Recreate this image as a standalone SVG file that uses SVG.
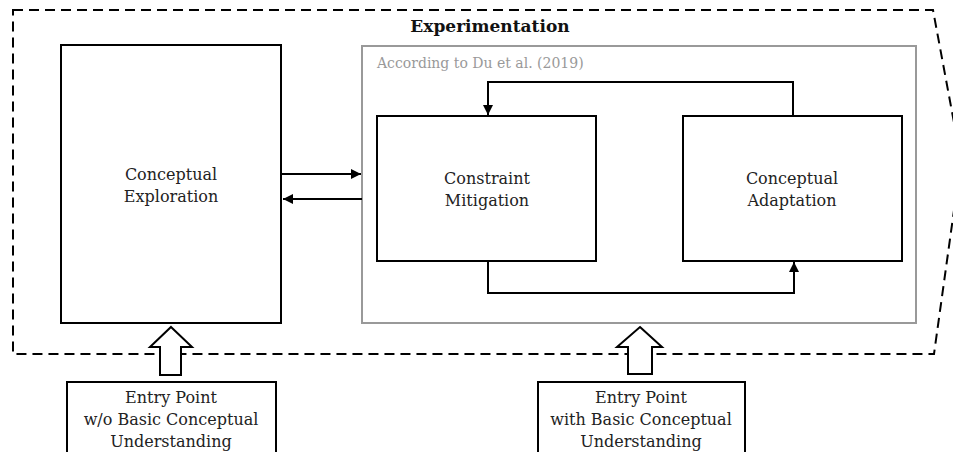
<svg xmlns="http://www.w3.org/2000/svg" width="953" height="452" viewBox="0 0 953 452">
<defs>
<style>
.box{fill:#fff;stroke:#000;stroke-width:2}
.t{font-family:"DejaVu Serif","Liberation Serif",serif;font-size:16px;fill:#222;text-anchor:middle}
.line{fill:none;stroke:#000;stroke-width:2}
</style>
<marker id="ah" viewBox="0 0 10 10" refX="10" refY="5" markerWidth="5" markerHeight="5" orient="auto" markerUnits="strokeWidth">
<path d="M0,0 L10,5 L0,10 z" fill="#000"/>
</marker>
</defs>
<rect width="953" height="452" fill="#fff"/>
<g id="experimentation">
<polygon points="13,10 933,10 961,160 934,354 13,354" fill="none" stroke="#000" stroke-width="2" stroke-dasharray="10,6"/>
<text x="490" y="32" style="font-family:'DejaVu Serif','Liberation Serif',serif;font-size:17px;font-weight:bold;text-anchor:middle;fill:#111">Experimentation</text>
</g>
<g id="du-et-al">
<rect x="362" y="46" width="554" height="277" fill="none" stroke="#999" stroke-width="2"/>
<text x="377" y="68" style="font-family:'DejaVu Serif','Liberation Serif',serif;font-size:14px;fill:#999">According to Du et al. (2019)</text>
</g>
<g id="conceptual-exploration">
<rect class="box" x="61" y="45" width="220" height="278"/>
<text class="t" x="171" y="180">Conceptual</text>
<text class="t" x="171" y="202">Exploration</text>
</g>
<g id="constraint-mitigation">
<rect class="box" x="377" y="116" width="219" height="145"/>
<text class="t" x="487" y="184">Constraint</text>
<text class="t" x="487" y="206">Mitigation</text>
</g>
<g id="conceptual-adaptation">
<rect class="box" x="683" y="116" width="219" height="145"/>
<text class="t" x="792" y="184">Conceptual</text>
<text class="t" x="792" y="206">Adaptation</text>
</g>
<g id="entry-without">
<rect class="box" x="67" y="382" width="209" height="80"/>
<text class="t" x="171" y="403">Entry Point</text>
<text class="t" x="171" y="425">w/o Basic Conceptual</text>
<text class="t" x="171" y="447">Understanding</text>
</g>
<g id="entry-with">
<rect class="box" x="538" y="382" width="207" height="80"/>
<text class="t" x="641" y="403">Entry Point</text>
<text class="t" x="641" y="425">with Basic Conceptual</text>
<text class="t" x="641" y="447">Understanding</text>
</g>
<g id="connectors">
<path class="line" d="M282,174 H361" marker-end="url(#ah)"/>
<path class="line" d="M362,199 H283" marker-end="url(#ah)"/>
<path class="line" d="M793,116 V82 H488 V115" marker-end="url(#ah)"/>
<path class="line" d="M488,261 V293 H794 V262" marker-end="url(#ah)"/>
<polygon points="171,327 192,347 181,347 181,375 160,375 160,347 150,347" fill="#fff" stroke="#000" stroke-width="2"/>
<polygon points="640,327 662,347 652,347 652,374 628,374 628,347 617,347" fill="#fff" stroke="#000" stroke-width="2"/>
</g>
</svg>
